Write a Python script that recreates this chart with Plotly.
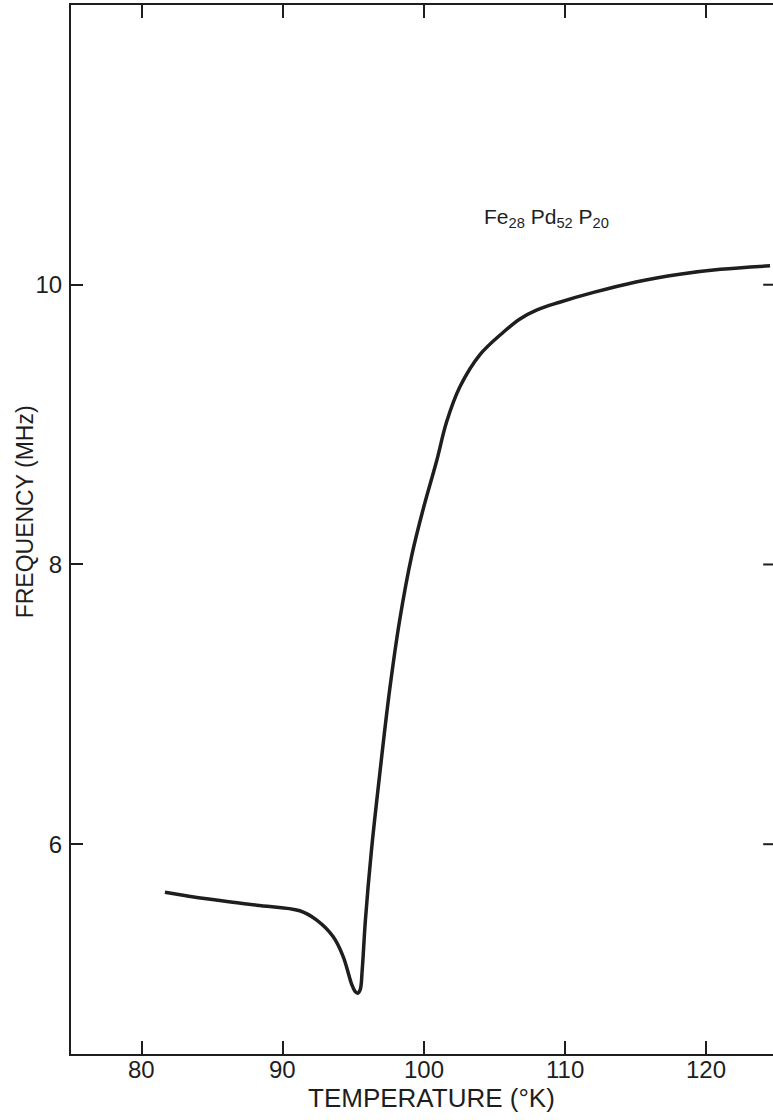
import plotly.graph_objects as go

# Resonance frequency of Fe28Pd52P20 vs temperature
temperature_k = [81.65, 84.6, 88.15, 91.2, 92.4, 93.57, 94.28, 94.87, 95.1, 95.3,
                 95.48, 95.62, 95.85, 96.28, 96.85, 97.56, 98.27, 99.12, 99.95, 100.89,
                 101.6, 102.54, 103.96, 105.61, 106.79, 108.0, 109.6, 112.0, 115.0,
                 118.1, 121.0, 124.5]
frequency_mhz = [5.657, 5.61, 5.564, 5.524, 5.457, 5.338, 5.195, 5.0, 4.95, 4.935,
                 4.96, 5.1, 5.46, 5.96, 6.49, 7.1, 7.6, 8.06, 8.40, 8.74,
                 9.02, 9.27, 9.50, 9.66, 9.755, 9.82, 9.875, 9.945, 10.02,
                 10.075, 10.11, 10.135]

x_ticks = [80, 90, 100, 110, 120]
y_ticks = [6, 8, 10]

FONT = "Liberation Sans"
INK = "#1e1e1e"

fig = go.Figure()
fig.add_trace(go.Scatter(
    x=temperature_k, y=frequency_mhz, mode="lines",
    line=dict(color=INK, width=3.5, shape="spline", smoothing=1.0),
    showlegend=False, hoverinfo="skip",
))

fig.update_xaxes(
    range=[75.0, 124.71], tickvals=x_ticks, ticks="inside", ticklen=13, tickwidth=2,
    tickcolor=INK, showline=True, linecolor=INK, linewidth=2, mirror="allticks",
    showgrid=False, zeroline=False, showticklabels=False,
)
fig.update_yaxes(
    range=[4.5, 12.0], tickvals=y_ticks, ticks="inside", ticklen=12, tickwidth=2,
    tickcolor=INK, showline=True, linecolor=INK, linewidth=2, mirror=False,
    showgrid=False, zeroline=False, ticklabelstandoff=2,
    tickfont=dict(family=FONT, size=24, color=INK),
)

# inward ticks on the right-hand frame edge
shapes = [dict(type="line", xref="paper", yref="y", x0=0.986, x1=1.0, y0=v, y1=v,
               line=dict(color=INK, width=2)) for v in y_ticks]

# x tick labels set close under the bottom frame line
annotations = [
    dict(text=str(v), xref="x", yref="paper", x=v, y=-0.0143,
         xanchor="center", yanchor="middle", showarrow=False,
         font=dict(family=FONT, size=24, color=INK))
    for v in x_ticks
]
annotations += [
    dict(text="TEMPERATURE (°K)", xref="paper", yref="paper", x=0.513, y=-0.042,
         xanchor="center", yanchor="middle", showarrow=False,
         font=dict(family=FONT, size=26, color=INK)),
    dict(text="FREQUENCY (MHz)", xref="paper", yref="paper", x=-0.066, y=0.517,
         xanchor="center", yanchor="middle", textangle=-90, showarrow=False,
         font=dict(family=FONT, size=23, color=INK)),
    dict(text="Fe<sub>28</sub> Pd<sub>52</sub> P<sub>20</sub>", xref="x", yref="y",
         x=108.7, y=10.48, xanchor="center", yanchor="middle", showarrow=False,
         font=dict(family=FONT, size=21, color=INK)),
]

fig.update_layout(
    width=773, height=1120, margin=dict(l=71, r=0, t=5, b=66),
    paper_bgcolor="white", plot_bgcolor="white",
    shapes=shapes, annotations=annotations,
)

fig.write_html("out.html")
